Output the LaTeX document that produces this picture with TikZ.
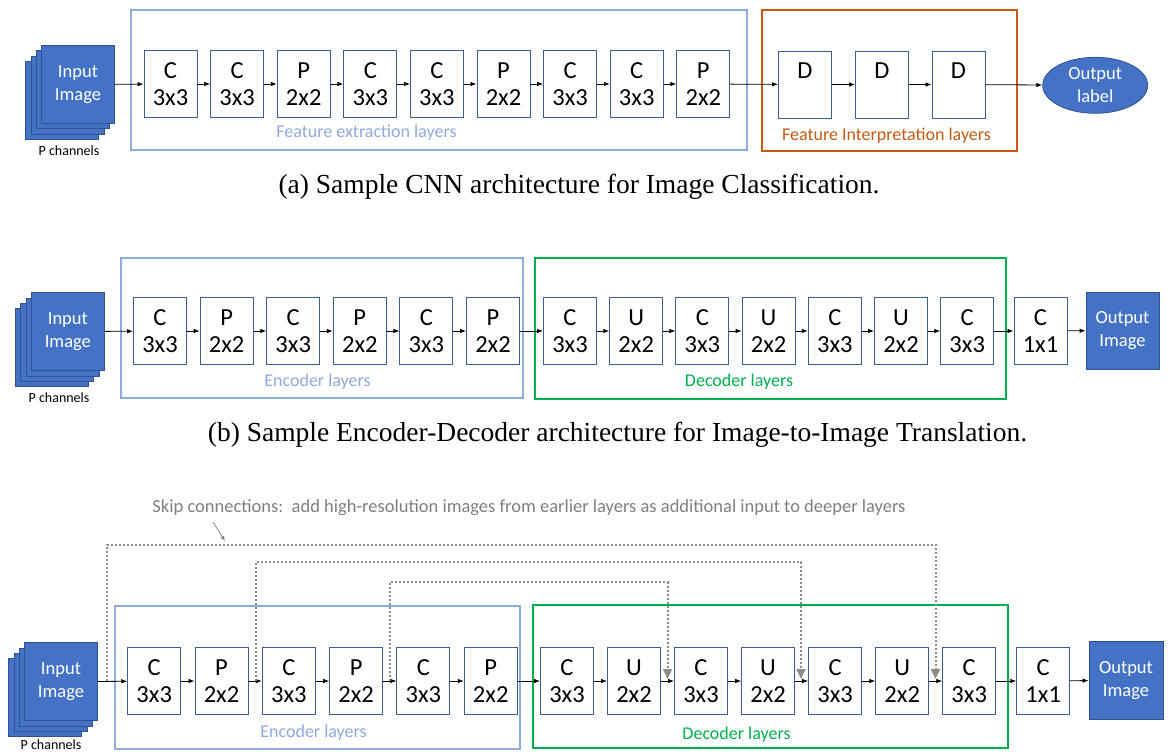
\documentclass[tikz,border=0pt]{standalone}
\usepackage{fontspec}
\setmainfont{Carlito}
\newfontfamily\capfont{Liberation Serif}
\usetikzlibrary{arrows.meta,shapes.geometric}
\definecolor{fillblue}{HTML}{4472C4}
\definecolor{darkblue}{HTML}{2F528F}
\definecolor{boxborder}{RGB}{62,92,150}
\definecolor{lightframe}{HTML}{8FAADC}
\definecolor{orangeframe}{HTML}{C55A11}
\definecolor{greenframe}{HTML}{00B050}
\definecolor{skipgray}{HTML}{8C8C8C}
\definecolor{textgray}{HTML}{7F7F7F}
\begin{document}
\begin{tikzpicture}[x=1pt,y=-1pt,
  box/.style={draw=boxborder, line width=0.9pt, fill=white, minimum width=53pt, minimum height=67pt, inner sep=0pt, align=center, font=\fontsize{24.5}{27}\selectfont},
  img/.style={draw=darkblue, line width=0.8pt, fill=fillblue, minimum width=73pt, minimum height=78pt, inner sep=0pt, text=white, align=center, font=\fontsize{18.5}{23}\selectfont},
  conn/.style={-{Latex[length=6pt,width=4.5pt]}, line width=0.8pt, black},
  skip/.style={draw=skipgray, line width=2pt, dash pattern=on 2pt off 2pt, -{Triangle[length=10pt,width=9pt,fill=skipgray]}},
  frameblue/.style={draw=lightframe, line width=1.8pt},
  frameorange/.style={draw=orangeframe, line width=1.8pt},
  framegreen/.style={draw=greenframe, line width=1.8pt},
  lbl/.style={font=\fontsize{18}{22}\selectfont},
  chan/.style={font=\fontsize{14}{16}\selectfont},
  captxt/.style={font=\capfont\fontsize{27.5}{30}\selectfont}
]
\useasboundingbox (0,0) rectangle (1171,752);

%%%%%%%%%%%%%%%% Panel (a)
\draw[frameblue] (131,10) rectangle (747,150);
\draw[frameorange] (762,10) rectangle (1017,151);
\node[img] (aback3) at (62.1,100.4) {};
\node[img] (aback2) at (67.4,95.1) {};
\node[img] (aback1) at (72.7,89.8) {};
\node[img] (ain) at (78,84.5) {Input\\Image};
\node[chan] (achan) at (69,151) {P channels};
\node[box] (a1) at (170.5,84) {C\\3x3};
\node[box] (a2) at (237.1,84) {C\\3x3};
\node[box] (a3) at (303.7,84) {P\\2x2};
\node[box] (a4) at (370.3,84) {C\\3x3};
\node[box] (a5) at (436.9,84) {C\\3x3};
\node[box] (a6) at (503.5,84) {P\\2x2};
\node[box] (a7) at (570.1,84) {C\\3x3};
\node[box] (a8) at (636.7,84) {C\\3x3};
\node[box] (a9) at (703.3,84) {P\\2x2};
\node[box] (d1) at (805,84.5) {D\\\phantom{3}};
\node[box] (d2) at (882,84.5) {D\\\phantom{3}};
\node[box] (d3) at (958.5,84.5) {D\\\phantom{3}};
\node[ellipse, draw=darkblue, line width=0.8pt, fill=fillblue, minimum width=105pt, minimum height=56pt, inner sep=0pt, text=white, align=center, font=\fontsize{18.5}{23}\selectfont] (aout) at (1095.2,85.3) {Output\\label};
\draw[conn] (ain) -- (a1);
\draw[conn] (a1) -- (a2);
\draw[conn] (a2) -- (a3);
\draw[conn] (a3) -- (a4);
\draw[conn] (a4) -- (a5);
\draw[conn] (a5) -- (a6);
\draw[conn] (a6) -- (a7);
\draw[conn] (a7) -- (a8);
\draw[conn] (a8) -- (a9);
\draw[conn] (a9) -- (d1);
\draw[conn] (d1) -- (d2);
\draw[conn] (d2) -- (d3);
\draw[conn] (d3) -- (aout);
\node[lbl, text=lightframe] (afel) at (366.5,133) {Feature extraction layers};
\node[lbl, text=orangeframe] (afil) at (886.5,136) {Feature Interpretation layers};
\node[captxt] (capa) at (579,187) {(a) Sample CNN architecture for Image Classification.};

%%%%%%%%%%%%%%%% Panel (b)
\draw[frameblue] (121,258) rectangle (523,398);
\draw[framegreen] (535,258) rectangle (1006,399);
\node[img] (bback3) at (51.95,347.55) {};
\node[img] (bback2) at (57.25,342.25) {};
\node[img] (bback1) at (62.55,336.95) {};
\node[img] (bin) at (67.85,331.65) {Input\\Image};
\node[chan] (bchan) at (59,398) {P channels};
\node[box] (b1) at (160,331) {C\\3x3};
\node[box] (b2) at (226.6,331) {P\\2x2};
\node[box] (b3) at (293.2,331) {C\\3x3};
\node[box] (b4) at (359.8,331) {P\\2x2};
\node[box] (b5) at (426.4,331) {C\\3x3};
\node[box] (b6) at (493,331) {P\\2x2};
\node[box] (b7) at (570,331) {C\\3x3};
\node[box] (b8) at (636.2,331) {U\\2x2};
\node[box] (b9) at (702.4,331) {C\\3x3};
\node[box] (b10) at (768.6,331) {U\\2x2};
\node[box] (b11) at (834.8,331) {C\\3x3};
\node[box] (b12) at (901,331) {U\\2x2};
\node[box] (b13) at (967.2,331) {C\\3x3};
\node[box] (b14) at (1040.5,331) {C\\1x1};
\node[img, minimum height=77pt] (bout) at (1122.5,330.5) {Output\\Image};
\draw[conn] (bin) -- (b1);
\draw[conn] (b1) -- (b2);
\draw[conn] (b2) -- (b3);
\draw[conn] (b3) -- (b4);
\draw[conn] (b4) -- (b5);
\draw[conn] (b5) -- (b6);
\draw[conn] (b6) -- (b7);
\draw[conn] (b7) -- (b8);
\draw[conn] (b8) -- (b9);
\draw[conn] (b9) -- (b10);
\draw[conn] (b10) -- (b11);
\draw[conn] (b11) -- (b12);
\draw[conn] (b12) -- (b13);
\draw[conn] (b13) -- (b14);
\draw[conn] (b14) -- (bout);
\node[lbl, text=lightframe] (benc) at (317.5,382) {Encoder layers};
\node[lbl, text=greenframe] (bdec) at (739,382) {Decoder layers};
\node[captxt] (capb) at (617.5,435) {(b) Sample Encoder-Decoder architecture for Image-to-Image Translation.};

%%%%%%%%%%%%%%%% Panel (c)
\node[font=\fontsize{18.5}{22}\selectfont, text=textgray] (skiplbl) at (529,508) {Skip connections:\ \ add high-resolution images from earlier layers as additional input to deeper layers};
\coordinate (la) at (213,522);
\coordinate (lb) at (225,541);
\draw[textgray, line width=0.7pt, -{Latex[length=5pt,width=4pt]}] (la) -- (lb);

\draw[frameblue] (115,606) rectangle (520,749);
\draw[framegreen] (533,605) rectangle (1008,748);
\node[img] (cback3) at (45.1,697.75) {};
\node[img] (cback2) at (50.4,692.45) {};
\node[img] (cback1) at (55.7,687.15) {};
\node[img] (cin) at (61,681.85) {Input\\Image};
\node[chan] (cchan) at (51,744.5) {P channels};
\node[box] (c1) at (154.2,681) {C\\3x3};
\node[box] (c2) at (221.5,681) {P\\2x2};
\node[box] (c3) at (288.8,681) {C\\3x3};
\node[box] (c4) at (356.1,681) {P\\2x2};
\node[box] (c5) at (423.4,681) {C\\3x3};
\node[box] (c6) at (490.7,681) {P\\2x2};
\node[box] (c7) at (567,681) {C\\3x3};
\node[box] (c8) at (634,681) {U\\2x2};
\node[box] (c9) at (701,681) {C\\3x3};
\node[box] (c10) at (768.1,681) {U\\2x2};
\node[box] (c11) at (835.1,681) {C\\3x3};
\node[box] (c12) at (902.2,681) {U\\2x2};
\node[box] (c13) at (969.2,681) {C\\3x3};
\node[box] (c14) at (1043.2,681) {C\\1x1};
\node[img, minimum width=74pt] (cout) at (1126,680.2) {Output\\Image};
\draw[conn] (cin) -- (c1);
\draw[conn] (c1) -- (c2);
\draw[conn] (c2) -- (c3);
\draw[conn] (c3) -- (c4);
\draw[conn] (c4) -- (c5);
\draw[conn] (c5) -- (c6);
\draw[conn] (c6) -- (c7);
\draw[conn] (c7) -- (c8);
\draw[conn] (c8) -- (c9);
\draw[conn] (c9) -- (c10);
\draw[conn] (c10) -- (c11);
\draw[conn] (c11) -- (c12);
\draw[conn] (c12) -- (c13);
\draw[conn] (c13) -- (c14);
\draw[conn] (c14) -- (cout);
% skip connections
\coordinate (s1) at (106.7,681);
\coordinate (e1) at (935.5,679);
\coordinate (s2) at (255.5,681);
\coordinate (e2) at (801,679);
\coordinate (s3) at (390,681);
\coordinate (e3) at (667.5,679);
\draw[skip] (s1) |- (935.5,545) -- (e1);
\draw[skip] (s2) |- (801,562.3) -- (e2);
\draw[skip] (s3) |- (667.5,582.3) -- (e3);
\node[lbl, text=lightframe] (cenc) at (313.5,733) {Encoder layers};
\node[lbl, text=greenframe] (cdec) at (736.5,735) {Decoder layers};
\end{tikzpicture}
\end{document}
